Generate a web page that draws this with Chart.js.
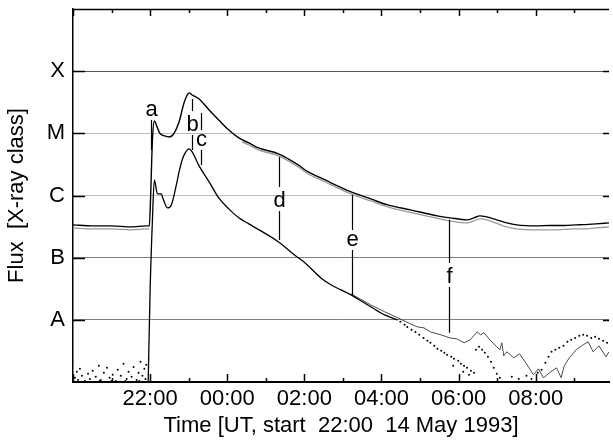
<!DOCTYPE html>
<html>
<head>
<meta charset="utf-8">
<script src="https://cdn.jsdelivr.net/npm/chart.js@4"></script>
<style>
  html, body { margin: 0; padding: 0; background: #fff; }
</style>
</head>
<body>
<canvas id="flare" width="613" height="443"></canvas>
<script>
// time in hours from 00:00 UT on 14 May 1993 (values above 24 are 15 May)
// flux in W m^-2, X-ray class decades A..X

const classLabels = ['A', 'B', 'C', 'M', 'X'];
const classFlux = [1e-8, 1e-7, 1e-6, 1e-5, 1e-4];
const hourTicks = [22, 24, 26, 28, 30, 32];

// 1-8 A channel, first satellite (black)
const upperTimes = [20.0, 20.5, 21.0, 21.5, 21.9, 21.98, 22.01, 22.06, 22.11, 22.17, 22.25, 22.38, 22.5, 22.62,
  22.75, 22.87, 22.95, 23.01, 23.09, 23.27, 23.53, 23.78, 24.04, 24.3, 24.56, 24.81, 25.33, 25.84, 26.1, 26.43,
  26.69, 27.21, 27.72, 28.16, 28.75, 29.45, 29.78, 30.22, 30.4, 30.55, 30.73, 30.99, 31.25, 31.51, 32.02, 32.36,
  32.75, 33.05, 33.23, 33.56, 33.9];
const upperFlux = [3.37e-7, 3.25e-7, 3.25e-7, 3.13e-7, 3.25e-7, 3.25e-7, 8.5e-7, 7.83e-6, 1.58e-5, 1.32e-5, 1.01e-5,
  9.08e-6, 8.75e-6, 1.0e-5, 1.52e-5, 2.97e-5, 3.99e-5, 4.47e-5, 4.14e-5, 3.57e-5, 2.38e-5, 1.64e-5, 1.13e-5,
  8.43e-6, 7.01e-6, 5.82e-6, 4.67e-6, 3.10e-6, 2.39e-6, 1.92e-6, 1.60e-6, 1.14e-6, 8.81e-7, 7.06e-7, 5.87e-7,
  4.70e-7, 4.37e-7, 4.06e-7, 4.37e-7, 4.70e-7, 4.53e-7, 4.06e-7, 3.63e-7, 3.37e-7, 3.25e-7, 3.3e-7, 3.3e-7,
  3.37e-7, 3.4e-7, 3.5e-7, 3.63e-7];

// 1-8 A channel, second satellite (grey)
const upperGrayTimes = [20.0, 20.5, 21.0, 21.5, 21.9, 21.98, 22.0, 24.38, 24.56, 24.81, 25.33, 25.84, 26.1, 26.43,
  26.69, 27.21, 27.72, 28.16, 28.75, 29.45, 29.78, 30.22, 30.4, 30.55, 30.73, 30.99, 31.25, 31.51, 32.02, 32.36,
  32.75, 33.05, 33.23, 33.56, 33.9];
const upperGrayFlux = [3.01e-7, 2.9e-7, 2.9e-7, 2.8e-7, 2.9e-7, 2.9e-7, null, 7.27e-6, 6.5e-6, 5.41e-6, 4.34e-6,
  2.88e-6, 2.22e-6, 1.78e-6, 1.48e-6, 1.06e-6, 8.18e-7, 6.56e-7, 5.35e-7, 4.29e-7, 3.91e-7, 3.63e-7, 3.91e-7,
  4.21e-7, 4.06e-7, 3.56e-7, 3.13e-7, 2.9e-7, 2.8e-7, 2.8e-7, 2.85e-7, 2.9e-7, 2.9e-7, 3.01e-7, 3.13e-7];

// 0.5-4 A channel (black, until it drops into the noise)
const lowerTimes = [21.95, 22.0, 22.06, 22.11, 22.19, 22.29, 22.32, 22.45, 22.55, 22.68, 22.75, 22.83, 22.91,
  23.01, 23.09, 23.27, 23.53, 23.78, 24.04, 24.3, 24.56, 25.33, 25.77, 26.02, 26.43, 26.69, 27.21, 27.72, 28.08,
  28.42];
const lowerFlux = [1.0e-9, 3.04e-8, 4.06e-7, 1.78e-6, 1.06e-6, 1.06e-6, 9.5e-7, 6.32e-7, 7.06e-7, 1.48e-6, 2.39e-6,
  3.73e-6, 4.84e-6, 5.61e-6, 5.02e-6, 2.99e-6, 1.66e-6, 9.14e-7, 6.09e-7, 4.37e-7, 3.49e-7, 1.79e-7, 1.07e-7,
  8.24e-8, 4.73e-8, 3.66e-8, 2.52e-8, 1.62e-8, 1.20e-8, 1.0e-8];

// 0.5-4 A channel, second satellite (grey, noisy tail)
const lowerGrayTimes = [27.21, 27.72, 28.08, 28.42, 28.75, 28.93, 29.1, 29.27, 29.45, 29.62, 29.78, 29.95, 30.14,
  30.3, 30.48, 30.57, 30.66, 30.81, 30.99, 31.07, 31.12, 31.17, 31.25, 31.43, 31.58, 31.76, 31.94, 32.07, 32.2,
  32.36, 32.54, 32.66, 32.74, 32.87, 33.05, 33.23, 33.36, 33.49, 33.64, 33.82, 33.9];
const lowerGrayFlux = [2.62e-8, 1.74e-8, 1.35e-8, 1.08e-8, 8.63e-9, 7.7e-9, 7.43e-9, 6.4e-9, 5.95e-9, 5.53e-9,
  5.1e-9, 4.95e-9, 4.27e-9, 4.77e-9, 6.4e-9, 5.74e-9, 6.2e-9, 4.77e-9, 3.68e-9, 3.3e-9, 4.27e-9, 2.64e-9, 3.06e-9,
  2.45e-9, 2.84e-9, 1.96e-9, 1.31e-9, 1.63e-9, 1.17e-9, 1.41e-9, 1.69e-9, 1.17e-9, 1.82e-9, 2.45e-9, 3.3e-9,
  3.96e-9, 4.43e-9, 3.06e-9, 3.82e-9, 2.54e-9, 3.06e-9];

// 0.5-4 A channel, first satellite, scattered samples in the tail
const lowerDotTimes = [28.49, 28.6, 28.67, 28.78, 28.88, 28.98, 29.09, 29.19, 29.27, 29.37, 29.45, 29.55, 29.63,
  29.7, 29.81, 29.88, 29.99, 30.06, 30.14, 30.22, 30.32, 30.4, 29.86, 30.12, 30.27, 30.45, 30.53, 30.61, 30.68,
  30.76, 30.84, 30.91, 30.99, 31.07, 31.38, 31.56, 31.76, 31.89, 32.05, 32.15, 32.25, 32.33, 32.41, 32.51, 32.61,
  32.72, 32.82, 32.92, 33.02, 33.13, 33.23, 33.33, 33.44, 33.54, 33.64, 33.75, 33.85];
const lowerDotFlux = [9.29e-9, 8.31e-9, 7.7e-9, 6.9e-9, 6.4e-9, 5.74e-9, 5.1e-9, 4.6e-9, 4.27e-9, 3.82e-9, 3.42e-9,
  3.18e-9, 2.95e-9, 2.74e-9, 2.54e-9, 2.36e-9, 2.19e-9, 1.96e-9, 1.82e-9, 1.69e-9, 1.51e-9, 1.41e-9, 1.82e-9,
  1.46e-9, 1.31e-9, 3.3e-9, 3.68e-9, 3.3e-9, 2.95e-9, 2.54e-9, 2.11e-9, 1.69e-9, 1.36e-9, 1.17e-9, 1.21e-9,
  1.12e-9, 1.26e-9, 1.12e-9, 1.41e-9, 1.57e-9, 2.04e-9, 2.54e-9, 3.06e-9, 3.3e-9, 3.55e-9, 3.82e-9, 4.43e-9,
  4.77e-9, 5.1e-9, 5.53e-9, 5.74e-9, 5.53e-9, 5.1e-9, 5.33e-9, 4.95e-9, 4.6e-9, 4.27e-9];

// 0.5-4 A channel before the flare: background noise near the floor
const noiseTimes = [20.05, 20.1, 20.13, 20.18, 20.23, 20.31, 20.39, 20.44, 20.51, 20.59, 20.67, 20.72, 20.8, 20.88,
  20.95, 21.03, 21.11, 21.16, 21.24, 21.31, 21.39, 21.44, 21.52, 21.57, 21.65, 21.7, 21.75, 21.8, 21.85, 21.88,
  21.9, 21.0, 20.69, 21.36, 21.72];
const noiseFlux = [1.17e-9, 1.46e-9, 1.08e-9, 1.63e-9, 1.26e-9, 1.04e-9, 1.36e-9, 1.12e-9, 1.51e-9, 1.21e-9,
  1.82e-9, 1.08e-9, 1.41e-9, 1.69e-9, 1.17e-9, 1.31e-9, 1.04e-9, 1.57e-9, 1.26e-9, 1.96e-9, 1.12e-9, 1.46e-9,
  1.21e-9, 1.75e-9, 1.08e-9, 1.41e-9, 2.11e-9, 1.26e-9, 1.63e-9, 1.12e-9, 1.89e-9, 1.04e-9, 1.04e-9, 1.04e-9,
  1.04e-9];

// labelled instants a-f: vertical bar from top to bottom flux, letter centred at labelFlux
const markerNames = ['a', 'b', 'c', 'd', 'e', 'f'];
const markerTimes = [22.01, 23.09, 23.31, 25.33, 27.23, 29.76];
const markerTop = [1.77e-5, 3.57e-5, 2.13e-5, 4.18e-6, 1.02e-6, 4.06e-7];
const markerBottom = [5.41e-6, 5.41e-6, 3.10e-6, 1.93e-7, 2.52e-8, 6.2e-9];
const markerLabel = [2.38e-5, 1.47e-5, 7.83e-6, 8.81e-7, 1.93e-7, 5.28e-8];

const FONT = '"Liberation Sans", Arial, sans-serif';
const pts = (t, f) => t.map((x, i) => ({ x: x, y: f[i] }));
const gridShade = ['#808080', '#808080', '#bdbdbd', '#bdbdbd', '#555555'];

// inward ticks, top frame line and the a-f markers
const frameTicks = {
  id: 'frameTicks',
  afterDatasetsDraw(chart) {
    const { ctx, chartArea: a, scales: { x, y } } = chart;
    ctx.save();
    ctx.strokeStyle = '#000';
    ctx.lineWidth = 1.5;
    ctx.beginPath();
    ctx.moveTo(a.left, a.top + 0.5);
    ctx.lineTo(a.right, a.top + 0.5);
    for (let h = Math.ceil(x.min); h <= x.max; h++) {
      const px = Math.round(x.getPixelForValue(h)) + 0.5;
      const major = h % 2 === 0;
      ctx.moveTo(px, a.bottom);
      ctx.lineTo(px, a.bottom - (major ? 8 : 4));
      ctx.moveTo(px, a.top);
      ctx.lineTo(px, a.top + (major ? 7 : 4));
    }
    classFlux.forEach(v => {
      const py = Math.round(y.getPixelForValue(v)) + 0.5;
      ctx.moveTo(a.left, py);
      ctx.lineTo(a.left + 12, py);
      ctx.moveTo(a.right, py);
      ctx.lineTo(a.right - 6, py);
    });
    ctx.stroke();

    ctx.lineWidth = 1.2;
    ctx.fillStyle = '#000';
    ctx.font = '22px ' + FONT;
    ctx.textAlign = 'center';
    ctx.textBaseline = 'alphabetic';
    markerNames.forEach((name, i) => {
      const px = Math.round(x.getPixelForValue(markerTimes[i])) + 0.5;
      const top = y.getPixelForValue(markerTop[i]);
      const bot = y.getPixelForValue(markerBottom[i]);
      const mid = y.getPixelForValue(markerLabel[i]);
      const m = ctx.measureText(name);
      const asc = m.actualBoundingBoxAscent, desc = m.actualBoundingBoxDescent;
      const half = (asc + desc) / 2;
      const g1 = mid - half - 4, g2 = mid + half + 4;
      ctx.beginPath();
      if (g1 > top) { ctx.moveTo(px, top); ctx.lineTo(px, Math.min(g1, bot)); }
      if (g2 < bot) { ctx.moveTo(px, Math.max(g2, top)); ctx.lineTo(px, bot); }
      ctx.stroke();
      ctx.fillText(name, px, mid + (asc - desc) / 2);
    });
    ctx.restore();
  }
};

Chart.defaults.font.family = FONT;
Chart.defaults.font.size = 22;
Chart.defaults.color = '#000';

new Chart(document.getElementById('flare'), {
  type: 'line',
  data: {
    datasets: [
      {
        label: '1-8 A (2)', data: pts(upperGrayTimes, upperGrayFlux),
        borderColor: '#9a9a9a', borderWidth: 1.3, spanGaps: false,
        cubicInterpolationMode: 'monotone', order: 3
      },
      {
        label: '1-8 A (1)', data: pts(upperTimes, upperFlux),
        borderColor: '#000', borderWidth: 1.4,
        cubicInterpolationMode: 'monotone', order: 1
      },
      {
        label: '0.5-4 A (2)', data: pts(lowerGrayTimes, lowerGrayFlux),
        borderColor: '#4a4a4a', borderWidth: 1, tension: 0, order: 2
      },
      {
        label: '0.5-4 A (1)', data: pts(lowerTimes, lowerFlux),
        borderColor: '#000', borderWidth: 1.3,
        cubicInterpolationMode: 'monotone', order: 1
      },
      {
        label: '0.5-4 A tail', data: pts(lowerDotTimes, lowerDotFlux),
        showLine: false, pointRadius: 1, pointBorderWidth: 0,
        pointBackgroundColor: '#000', order: 1
      },
      {
        label: 'background', data: pts(noiseTimes, noiseFlux),
        showLine: false, pointRadius: 1, pointBorderWidth: 0,
        pointBackgroundColor: '#000', order: 1
      }
    ]
  },
  options: {
    responsive: false,
    animation: false,
    layout: { padding: { top: 9, right: 0, left: 0, bottom: 0 } },
    elements: { point: { radius: 0 } },
    plugins: { legend: { display: false }, tooltip: { enabled: false } },
    scales: {
      x: {
        type: 'linear', min: 20, max: 33.9,
        afterBuildTicks: s => { s.ticks = hourTicks.map(v => ({ value: v })); },
        afterFit: s => { s.height = 61; s.paddingLeft = 0; s.paddingRight = 0; },
        grid: { display: false },
        border: { display: true, color: '#000', width: 2 },
        ticks: {
          padding: -4, maxRotation: 0, autoSkip: false,
          callback: v => String(v % 24).padStart(2, '0') + ':00'
        },
        title: { display: true, text: 'Time [UT, start  22:00  14 May 1993]' }
      },
      y: {
        type: 'logarithmic', min: 1e-9, max: 1e-3,
        afterBuildTicks: s => { s.ticks = classFlux.map(v => ({ value: v })); },
        afterFit: s => { s.width = 73; s.paddingTop = 0; s.paddingBottom = 0; },
        grid: {
          drawTicks: false,
          color: c => gridShade[classFlux.indexOf(c.tick.value)] || 'rgba(0,0,0,0)'
        },
        border: { display: true, color: '#000', width: 1.5 },
        ticks: {
          padding: 8, autoSkip: false,
          callback: v => { const i = classFlux.indexOf(v); return i >= 0 ? classLabels[i] : ''; }
        },
        title: { display: true, text: 'Flux  [X-ray class]' }
      }
    }
  },
  plugins: [frameTicks]
});
</script>
</body>
</html>
